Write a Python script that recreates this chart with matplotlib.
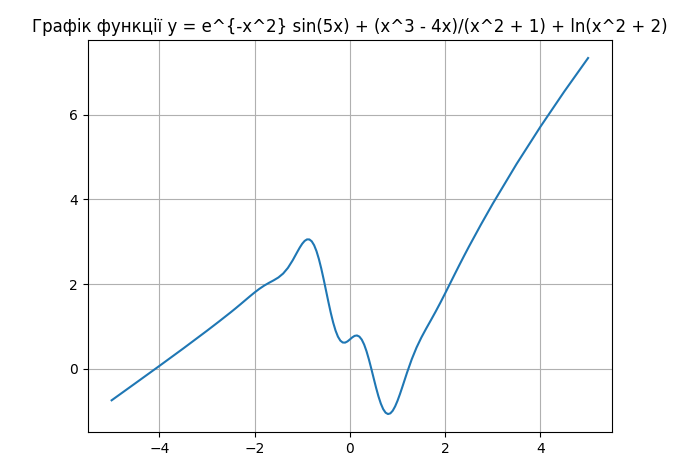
import matplotlib
matplotlib.use('Agg')
import matplotlib.pyplot as plt

# values
xs = [-5.0, -4.5, -4.0, -3.5, -3.0, -2.75,
      -2.5, -2.4, -2.3, -2.2, -2.1, -2.0, -1.9, -1.8, -1.7, -1.6,
      -1.5, -1.4, -1.3, -1.2, -1.1, -1.05, -1.0, -0.95, -0.9, -0.85,
      -0.8, -0.75, -0.7, -0.65, -0.6, -0.55, -0.5, -0.45, -0.4, -0.35,
      -0.3, -0.25, -0.2, -0.15, -0.1, -0.05, 0.0, 0.05, 0.1, 0.15,
      0.2, 0.25, 0.3, 0.35, 0.4, 0.45, 0.5, 0.55, 0.6, 0.65,
      0.7, 0.75, 0.8, 0.85, 0.9, 0.95, 1.0, 1.05, 1.1, 1.2,
      1.3, 1.4, 1.5, 1.6, 1.7, 1.8, 1.9, 2.0, 2.1, 2.2,
      2.3, 2.4, 2.5, 2.75, 3.0, 3.5, 4.0, 4.5, 5.0]
ys = [-0.7426, -0.3388, 0.0668, 0.4775, 0.8979, 1.1137,
      1.3345, 1.4258, 1.5192, 1.6143, 1.7094, 1.8017, 1.8873, 1.9628, 2.0279, 2.0880,
      2.1557, 2.2486, 2.3823, 2.5607, 2.7654, 2.8644, 2.9514, 3.0176, 3.0542, 3.0534,
      3.0089, 2.9166, 2.7762, 2.5904, 2.3661, 2.1133, 1.8448, 1.5753, 1.3194, 1.0911,
      0.9017, 0.7589, 0.6660, 0.6214, 0.6185, 0.6470, 0.6931, 0.7418, 0.7777, 0.7873,
      0.7599, 0.6889, 0.5727, 0.4141, 0.2208, 0.0039, -0.2230, -0.4453, -0.6488, -0.8208,
      -0.9516, -1.0347, -1.0673, -1.0503, -0.9879, -0.8865, -0.7542, -0.6000, -0.4328, -0.0898,
      0.2290, 0.5039, 0.7381, 0.9466, 1.1465, 1.3498, 1.5618, 1.7818, 2.0063, 2.2313,
      2.4538, 2.6721, 2.8859, 3.4020, 3.8979, 4.8360, 5.7139, 6.5435, 7.3343]

title = 'Графік функції y = e^{-x^2} sin(5x) + (x^3 - 4x)/(x^2 + 1) + ln(x^2 + 2)'

fig = plt.figure(figsize=(6.86, 4.57), dpi=100)
ax = fig.add_subplot(1, 1, 1)
fig.subplots_adjust(left=0.128, right=0.892, top=0.912, bottom=0.055)

ax.plot(xs, ys)
ax.set_title(title)
ax.grid(True)

plt.savefig('out.png')
